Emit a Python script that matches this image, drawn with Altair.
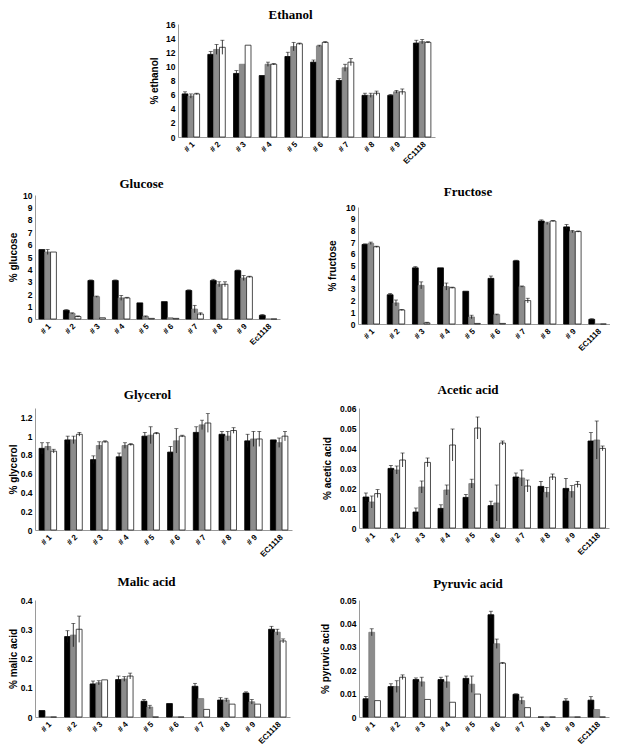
import altair as alt
import pandas as pd

cats = ["# 1", "# 2", "# 3", "# 4", "# 5", "# 6", "# 7", "# 8", "# 9", "EC1118"]
cats_glu = ["# 1", "# 2", "# 3", "# 4", "# 5", "# 6", "# 7", "# 8", "# 9", "Ec1118"]

# Ethanol
eth_a = [6.1, 11.7, 9.0, 8.7, 11.4, 10.6, 8.0, 5.9, 5.9, 13.3]
eth_b = [5.8, 12.4, 10.3, 10.3, 12.8, 12.9, 9.8, 5.9, 6.4, 13.5]
eth_c = [6.1, 12.7, 13.0, 10.3, 13.2, 13.4, 10.6, 6.2, 6.4, 13.4]
eth_ea = [0.3, 0.4, 0.4, 0.0, 0.6, 0.3, 0.3, 0.3, 0.1, 0.4]
eth_eb = [0.3, 0.7, 0.0, 0.3, 0.6, 0.1, 0.5, 0.3, 0.2, 0.3]
eth_ec = [0.1, 1.0, 0.0, 0.1, 0.1, 0.1, 0.5, 0.3, 0.4, 0.1]

# Glucose
glu_a = [5.6, 0.7, 3.1, 3.1, 1.3, 1.4, 2.3, 3.1, 3.9, 0.3]
glu_b = [5.4, 0.45, 1.8, 1.7, 0.2, 0.1, 0.8, 2.8, 3.3, 0.0]
glu_c = [5.4, 0.2, 0.1, 1.7, 0.05, 0.05, 0.4, 2.8, 3.4, 0.0]
glu_ea = [0.0, 0.05, 0.05, 0.05, 0.0, 0.0, 0.05, 0.1, 0.05, 0.05]
glu_eb = [0.2, 0.05, 0.05, 0.2, 0.05, 0.0, 0.3, 0.2, 0.2, 0.0]
glu_ec = [0.0, 0.05, 0.0, 0.05, 0.0, 0.0, 0.1, 0.2, 0.05, 0.0]

# Fructose
fru_a = [6.8, 2.5, 4.8, 4.8, 2.8, 3.9, 5.4, 8.8, 8.3, 0.4]
fru_b = [6.9, 1.8, 3.3, 3.2, 0.6, 0.8, 3.2, 8.6, 7.9, 0.0]
fru_c = [6.6, 1.2, 0.1, 3.1, 0.05, 0.05, 2.0, 8.8, 7.9, 0.0]
fru_ea = [0.05, 0.1, 0.1, 0.0, 0.0, 0.2, 0.05, 0.1, 0.2, 0.05]
fru_eb = [0.1, 0.25, 0.3, 0.3, 0.15, 0.05, 0.05, 0.1, 0.1, 0.0]
fru_ec = [0.05, 0.05, 0.05, 0.05, 0.0, 0.0, 0.2, 0.05, 0.05, 0.0]

# Glycerol
gly_a = [0.87, 0.96, 0.75, 0.78, 1.0, 0.83, 1.04, 1.02, 0.95, 0.96]
gly_b = [0.89, 0.96, 0.90, 0.90, 1.01, 0.95, 1.12, 1.0, 0.97, 0.93]
gly_c = [0.84, 1.02, 0.94, 0.91, 1.03, 1.0, 1.14, 1.06, 0.97, 1.0]
gly_ea = [0.06, 0.04, 0.04, 0.04, 0.04, 0.06, 0.06, 0.03, 0.07, 0.0]
gly_eb = [0.04, 0.04, 0.04, 0.03, 0.09, 0.13, 0.05, 0.05, 0.08, 0.05]
gly_ec = [0.02, 0.02, 0.01, 0.01, 0.01, 0.01, 0.10, 0.03, 0.08, 0.05]

# Acetic acid
ace_a = [0.0155, 0.0298, 0.008, 0.0098, 0.0153, 0.0112, 0.0255, 0.0208, 0.0198, 0.0435]
ace_b = [0.013, 0.029, 0.0205, 0.019, 0.0222, 0.0125, 0.025, 0.0178, 0.0182, 0.044]
ace_c = [0.0172, 0.034, 0.0328, 0.0415, 0.05, 0.0425, 0.021, 0.0255, 0.0218, 0.0398]
ace_ea = [0.002, 0.0015, 0.002, 0.0018, 0.0015, 0.0022, 0.002, 0.0025, 0.005, 0.0042]
ace_eb = [0.003, 0.002, 0.003, 0.0025, 0.0022, 0.009, 0.004, 0.0025, 0.003, 0.0095]
ace_ec = [0.002, 0.0035, 0.0022, 0.008, 0.0055, 0.001, 0.003, 0.0015, 0.0015, 0.0012]

# Malic acid
mal_a = [0.022, 0.275, 0.113, 0.128, 0.054, 0.046, 0.105, 0.058, 0.082, 0.30]
mal_b = [0.0, 0.28, 0.117, 0.13, 0.034, 0.0, 0.063, 0.058, 0.052, 0.29]
mal_c = [0.0, 0.30, 0.127, 0.14, 0.0, 0.0, 0.026, 0.044, 0.044, 0.26]
mal_ea = [0.0, 0.02, 0.01, 0.012, 0.006, 0.0, 0.01, 0.008, 0.004, 0.01]
mal_eb = [0.0, 0.04, 0.007, 0.008, 0.006, 0.0, 0.0, 0.006, 0.008, 0.01]
mal_ec = [0.0, 0.045, 0.0, 0.01, 0.0, 0.0, 0.0, 0.0, 0.0, 0.007]

# Pyruvic acid
pyr_a = [0.0078, 0.013, 0.016, 0.016, 0.0165, 0.0437, 0.0097, 0.0, 0.0068, 0.0072]
pyr_b = [0.0362, 0.013, 0.015, 0.015, 0.014, 0.0313, 0.007, 0.0, 0.0, 0.0032]
pyr_c = [0.007, 0.017, 0.0075, 0.0063, 0.0098, 0.023, 0.004, 0.0, 0.0, 0.0]
pyr_ea = [0.001, 0.0012, 0.0007, 0.001, 0.001, 0.0015, 0.0002, 0.0, 0.001, 0.0015]
pyr_eb = [0.0015, 0.0025, 0.002, 0.0025, 0.0035, 0.002, 0.0015, 0.0, 0.0, 0.0]
pyr_ec = [0.0, 0.001, 0.0, 0.0, 0.0, 0.0003, 0.0, 0.0, 0.0, 0.0]

FILL = ["#000000", "#8c8c8c", "#ffffff"]
STROKE = ["#000000", "#7a7a7a", "#222222"]
SANS = "Liberation Sans"
SERIF = "Liberation Serif"


def make_df(labels, a, b, c, ea, eb, ec):
    rows = []
    for s, (vals, errs) in enumerate([(a, ea), (b, eb), (c, ec)]):
        for cat, v, e in zip(labels, vals, errs):
            rows.append({"cat": cat, "s": s, "v": v, "e": e,
                         "lo": max(v - e, 0), "hi": v + e})
    return pd.DataFrame(rows)


def panel(name, labels, series, ymax, yvals, ytitle, w, h, yext, toff, tpad=3):
    df = make_df(labels, *series)
    xenc = alt.X("cat:N", sort=labels, title=None,
                 scale=alt.Scale(paddingInner=0.32, paddingOuter=0.16),
                 axis=alt.Axis(labelAngle=-45, labelFontSize=8, labelPadding=3,
                               minExtent=29, maxExtent=29))
    xoff = alt.XOffset("s:N", scale=alt.Scale(paddingInner=0.0))
    yscale = alt.Scale(domain=[0, ymax], nice=False, zero=True)
    yaxis = alt.Axis(values=yvals, format="~r", labelFontSize=8.5, labelPadding=3,
                     titleFontSize=10, titlePadding=tpad,
                     minExtent=yext, maxExtent=yext)
    base = alt.Chart(df).encode(x=xenc, xOffset=xoff)
    bars = base.mark_bar(strokeWidth=0.8).encode(
        y=alt.Y("v:Q", scale=yscale, axis=yaxis, title=ytitle),
        fill=alt.Fill("s:N", scale=alt.Scale(domain=[0, 1, 2], range=FILL), legend=None),
        stroke=alt.Stroke("s:N", scale=alt.Scale(domain=[0, 1, 2], range=STROKE), legend=None),
    )
    eb = base.transform_filter("datum.e > 0")
    rule = eb.mark_rule(color="#111111", strokeWidth=0.8).encode(
        y=alt.Y("lo:Q", scale=yscale, axis=yaxis, title=ytitle), y2="hi:Q")
    cap_hi = eb.mark_tick(color="#111111", size=4, thickness=0.8).encode(
        y=alt.Y("hi:Q", scale=yscale, axis=yaxis, title=ytitle))
    return alt.layer(bars, rule, cap_hi).properties(
        width=w, height=h,
        title=alt.TitleParams(name, offset=toff, dx=-16, font=SERIF, fontSize=13,
                              fontWeight="bold", color="black"))


def blank(w, h):
    return alt.Chart(pd.DataFrame({"a": [0]})).mark_text(text="").encode(
        x=alt.value(0), y=alt.value(0)).properties(width=w, height=h)


eth = panel("Ethanol", cats, (eth_a, eth_b, eth_c, eth_ea, eth_eb, eth_ec), 16,
            [0, 2, 4, 6, 8, 10, 12, 14, 16], "% ethanol", 257, 113, 16, -2)
glu = panel("Glucose", cats_glu, (glu_a, glu_b, glu_c, glu_ea, glu_eb, glu_ec), 10,
            [0, 1, 2, 3, 4, 5, 6, 7, 8, 9, 10], "% glucose", 245, 124, 16, 0, 1)
fru = panel("Fructose", cats, (fru_a, fru_b, fru_c, fru_ea, fru_eb, fru_ec), 10,
            [0, 1, 2, 3, 4, 5, 6, 7, 8, 9, 10], "% fructose", 252, 117, 18, 4)
gly = panel("Glycerol", cats, (gly_a, gly_b, gly_c, gly_ea, gly_eb, gly_ec), 1.3,
            [0, 0.2, 0.4, 0.6, 0.8, 1, 1.2], "% glycerol", 257, 122, 16, 6, 1)
ace = panel("Acetic acid", cats, (ace_a, ace_b, ace_c, ace_ea, ace_eb, ace_ec), 0.06,
            [0, 0.01, 0.02, 0.03, 0.04, 0.05, 0.06], "% acetic acid", 250, 120, 24, 7)
mal = panel("Malic acid", cats, (mal_a, mal_b, mal_c, mal_ea, mal_eb, mal_ec), 0.4,
            [0, 0.1, 0.2, 0.3, 0.4], "% malic acid", 255, 117, 16, 7, 1)
pyr = panel("Pyruvic acid", cats, (pyr_a, pyr_b, pyr_c, pyr_ea, pyr_eb, pyr_ec), 0.05,
            [0, 0.01, 0.02, 0.03, 0.04, 0.05], "% pyruvic acid", 250, 117, 26, 5)

FL = "flush"
eth_cell = alt.vconcat(eth, blank(257, 30), spacing=0, bounds=FL)
fru_cell = alt.vconcat(blank(252, 12), fru, blank(252, 30), spacing=0, bounds=FL)
ace_cell = alt.vconcat(ace, blank(250, 32), spacing=0, bounds=FL)

row1 = alt.concat(blank(143, 113), eth_cell, columns=2, spacing=0, align="none", bounds=FL)
row2 = alt.concat(glu, fru_cell, columns=2, spacing=78, align="none", bounds=FL)
row3 = alt.concat(gly, ace_cell, columns=2, spacing=67, align="none", bounds=FL)
row4 = alt.concat(mal, pyr, columns=2, spacing=69, align="none", bounds=FL)

chart = alt.vconcat(
    row1,
    alt.vconcat(row2, alt.vconcat(row3, row4, spacing=16), spacing=30),
    spacing=11,
).properties(
    padding={"left": 0, "top": 1, "right": 0, "bottom": 0}
).configure_view(stroke=None).configure_axis(
    grid=False, ticks=False, domainColor="#9a9a9a", domainWidth=1,
    labelFont=SANS, labelFontWeight="bold", labelColor="black",
    titleFont=SANS, titleFontWeight="bold", titleColor="black",
).configure_title(font=SERIF, fontWeight="bold", fontSize=13, color="black")

chart.save("out.html", embed_options={"renderer": "svg", "actions": False})
